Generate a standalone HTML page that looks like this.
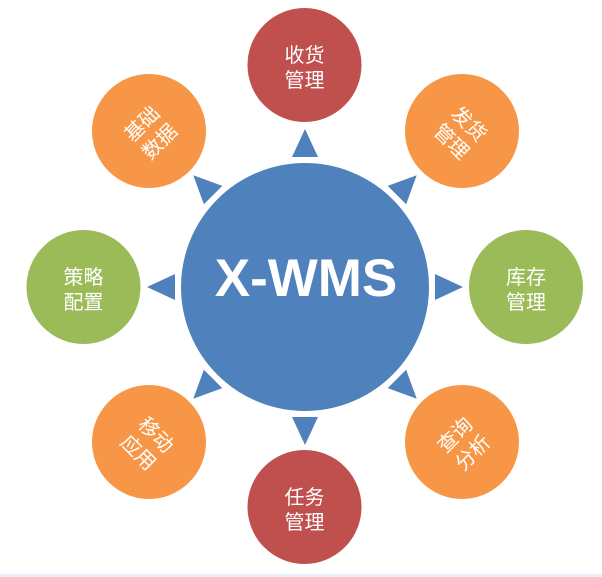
<!DOCTYPE html>
<html><head><meta charset="utf-8"><style>
html,body{margin:0;padding:0;background:#fff;}
svg{display:block}
text{font-family:"Liberation Sans","Noto Sans CJK SC",sans-serif;fill:#fff}
.l{font-size:20px;text-anchor:middle}
</style></head><body>
<svg width="602" height="577" viewBox="0 0 602 577">
<rect x="0" y="574" width="602" height="3" fill="#e6effa"/>
<g stroke="#fff" stroke-width="2">
<circle cx="305" cy="287" r="125" fill="#4f81bd"/>
<circle cx="304.5" cy="65" r="58" fill="#c0504d"/>
<circle cx="304.5" cy="507" r="58" fill="#c0504d"/>
<circle cx="149" cy="131" r="58" fill="#f79646"/>
<circle cx="462" cy="131" r="58" fill="#f79646"/>
<circle cx="149" cy="442" r="58" fill="#f79646"/>
<circle cx="462" cy="442" r="58" fill="#f79646"/>
<circle cx="83.5" cy="287" r="58" fill="#9bbb59"/>
<circle cx="526" cy="287" r="58" fill="#9bbb59"/>
</g>
<g fill="#4f81bd">
<polygon points="305,129 292,157 318,157" transform="rotate(0 305 287)"/>
<polygon points="305,129 292,157 318,157" transform="rotate(45 305 287)"/>
<polygon points="305,129 292,157 318,157" transform="rotate(90 305 287)"/>
<polygon points="305,129 292,157 318,157" transform="rotate(135 305 287)"/>
<polygon points="305,129 292,157 318,157" transform="rotate(180 305 287)"/>
<polygon points="305,129 292,157 318,157" transform="rotate(225 305 287)"/>
<polygon points="305,129 292,157 318,157" transform="rotate(270 305 287)"/>
<polygon points="305,129 292,157 318,157" transform="rotate(315 305 287)"/>
</g>
<text x="306" y="296" style="font-size:53px;font-weight:bold;text-anchor:middle">X-WMS</text>
<text class="l" x="304.5" y="62">收货</text><text class="l" x="304.5" y="87">管理</text>
<text class="l" x="304.5" y="504">任务</text><text class="l" x="304.5" y="529">管理</text>
<text class="l" x="83.5" y="284">策略</text><text class="l" x="83.5" y="309">配置</text>
<text class="l" x="526" y="284">库存</text><text class="l" x="526" y="309">管理</text>
<g transform="rotate(-45 149 131)"><text class="l" x="149" y="128">基础</text><text class="l" x="149" y="153">数据</text></g>
<g transform="rotate(45 462 131)"><text class="l" x="462" y="128">发货</text><text class="l" x="462" y="153">管理</text></g>
<g transform="rotate(45 149 442)"><text class="l" x="149" y="439">移动</text><text class="l" x="149" y="464">应用</text></g>
<g transform="rotate(-45 462 442)"><text class="l" x="462" y="439">查询</text><text class="l" x="462" y="464">分析</text></g>
</svg>
</body></html>
